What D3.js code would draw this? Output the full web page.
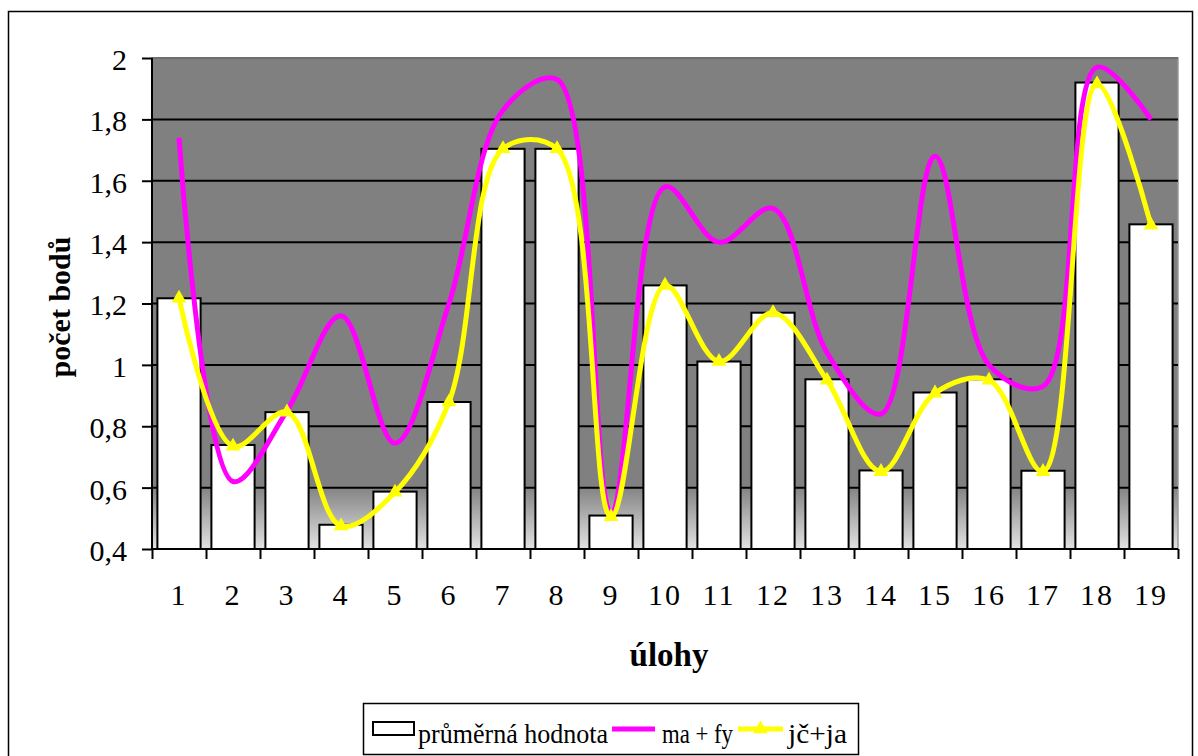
<!DOCTYPE html>
<html>
<head>
<meta charset="utf-8">
<script src="https://cdn.jsdelivr.net/npm/d3@7"></script>
<style>
  html, body { margin: 0; padding: 0; background: #fff; }
  svg text { font-family: "Liberation Serif", "Times New Roman", serif; fill: #000; }
</style>
</head>
<body>
<svg id="chart" width="1198" height="756"></svg>
<script>
// Úlohy 1–19 and average points per task
const categories = ["1","2","3","4","5","6","7","8","9","10","11","12","13","14","15","16","17","18","19"];
const prumernaHodnota = [1.217, 0.739, 0.846, 0.479, 0.587, 0.879, 1.704, 1.704, 0.509, 1.259, 1.011, 1.170, 0.953, 0.656, 0.910, 0.953, 0.655, 1.920, 1.458];
const maFy = [1.74, 0.62, 0.85, 1.16, 0.745, 1.20, 1.83, 1.93, 0.52, 1.58, 1.40, 1.51, 1.04, 0.84, 1.68, 1.00, 0.93, 1.97, 1.80];
const jcJa = [1.217, 0.735, 0.846, 0.475, 0.585, 0.879, 1.704, 1.704, 0.505, 1.259, 1.011, 1.170, 0.950, 0.652, 0.908, 0.950, 0.652, 1.915, 1.455];
const yTicks = [0.4, 0.6, 0.8, 1.0, 1.2, 1.4, 1.6, 1.8, 2.0];
const seriesNames = ["průměrná hodnota", "ma + fy", "jč+ja"];

const svg = d3.select("#chart");
const plot = { left: 152, right: 1178, top: 58, bottom: 549 };

const x = d3.scaleBand().domain(categories).range([plot.left, plot.right]).paddingInner(0.2).paddingOuter(0.1);
const xEdge = d3.scaleLinear().domain([0, categories.length]).range([plot.left, plot.right]);
const y = d3.scaleLinear().domain([0.4, 2]).range([plot.bottom, plot.top]);
const czech = d3.formatLocale({ decimal: ",", thousands: " ", grouping: [3], currency: ["", " Kč"] });
const fmt = v => Number.isInteger(v) ? String(v) : czech.format(".1f")(v);

// outer frame
svg.append("rect").attr("x", 8.5).attr("y", 11.5).attr("width", 1184).attr("height", 780)
  .attr("fill", "#fff").attr("stroke", "#000").attr("stroke-width", 1.5);

// plot background: grey fading to light at the bottom
const defs = svg.append("defs");
const grad = defs.append("linearGradient").attr("id", "bg").attr("x1", 0).attr("y1", 0).attr("x2", 0).attr("y2", 1);
grad.append("stop").attr("offset", 0).attr("stop-color", "#808080");
grad.append("stop").attr("offset", 0.87).attr("stop-color", "#808080");
grad.append("stop").attr("offset", 1).attr("stop-color", "#e2e2e2");
svg.append("rect").attr("x", plot.left).attr("y", plot.top)
  .attr("width", plot.right - plot.left).attr("height", plot.bottom - plot.top)
  .attr("fill", "url(#bg)").attr("stroke", "#9a9a9a").attr("stroke-width", 1.5);

// horizontal gridlines
svg.append("g").selectAll("line").data(yTicks.filter(v => v > 0.4 && v < 2)).join("line")
  .attr("x1", plot.left).attr("x2", plot.right)
  .attr("y1", d => y(d)).attr("y2", d => y(d))
  .attr("stroke", "#000").attr("stroke-width", 2);
svg.append("line").attr("x1", plot.left).attr("x2", plot.right)
  .attr("y1", y(2)).attr("y2", y(2)).attr("stroke", "#6e6e6e").attr("stroke-width", 2);

// bars
svg.append("g").selectAll("rect").data(prumernaHodnota).join("rect")
  .attr("x", (d, i) => x(categories[i]))
  .attr("y", d => y(d))
  .attr("width", x.bandwidth())
  .attr("height", d => y(0.4) - y(d))
  .attr("fill", "#fff").attr("stroke", "#000").attr("stroke-width", 2);

// y axis
const yAxis = svg.append("g").attr("transform", `translate(${plot.left},0)`)
  .call(d3.axisLeft(y).tickValues(yTicks).tickFormat(fmt).tickSize(10).tickPadding(15));
yAxis.select(".domain").attr("stroke-width", 2).attr("d", `M0,${plot.top}V${plot.bottom}`);
yAxis.selectAll(".tick line").attr("stroke-width", 2);
yAxis.selectAll("text").attr("font-size", 30).attr("dy", "0.38em")
  .style("font-family", "'Liberation Serif', serif");

// x axis: ticks between categories, labels centred
const xAxisTicks = svg.append("g").attr("transform", `translate(0,${plot.bottom})`)
  .call(d3.axisBottom(xEdge).tickValues(d3.range(0, categories.length + 1)).tickFormat("").tickSize(10));
xAxisTicks.select(".domain").attr("stroke-width", 2).attr("d", `M${plot.left},0H${plot.right}`);
xAxisTicks.selectAll(".tick line").attr("stroke-width", 2);
const xAxisLabels = svg.append("g").attr("transform", `translate(0,${plot.bottom})`)
  .call(d3.axisBottom(x).tickSize(0).tickPadding(35));
xAxisLabels.select(".domain").remove();
xAxisLabels.selectAll("text").attr("font-size", 30).attr("letter-spacing", 2)
  .style("font-family", "'Liberation Serif', serif");

// smoothed series lines
const cx = i => x(categories[i]) + x.bandwidth() / 2;
const line = d3.line().x((d, i) => cx(i)).y(d => y(d)).curve(d3.curveCatmullRom.alpha(0.5));
svg.append("path").datum(maFy).attr("d", line)
  .attr("fill", "none").attr("stroke", "#ff00ff").attr("stroke-width", 5).attr("stroke-linejoin", "round");
svg.append("path").datum(jcJa).attr("d", line)
  .attr("fill", "none").attr("stroke", "#ffff00").attr("stroke-width", 5).attr("stroke-linejoin", "round");
const tri = d3.symbol().type(d3.symbolTriangle).size(95);
svg.append("g").selectAll("path").data(jcJa).join("path")
  .attr("transform", (d, i) => `translate(${cx(i)},${y(d)})`)
  .attr("d", tri).attr("fill", "#ffff00");

// axis titles
svg.append("text").attr("x", 669).attr("y", 666).attr("text-anchor", "middle")
  .attr("font-size", 33).attr("font-weight", "bold").text("úlohy");
svg.append("text").attr("transform", "translate(70,307) rotate(-90)").attr("text-anchor", "middle")
  .attr("font-size", 30).attr("font-weight", "bold").text("počet bodů");

// legend
const lg = svg.append("g");
lg.append("rect").attr("x", 363.5).attr("y", 703.5).attr("width", 495).attr("height", 51)
  .attr("fill", "#fff").attr("stroke", "#000").attr("stroke-width", 1.5);
lg.append("rect").attr("x", 373).attr("y", 722).attr("width", 41).attr("height", 13)
  .attr("fill", "#fff").attr("stroke", "#000").attr("stroke-width", 2);
lg.append("text").attr("x", 418).attr("y", 743).attr("font-size", 27)
  .attr("textLength", 190).attr("lengthAdjust", "spacingAndGlyphs").text(seriesNames[0]);
lg.append("line").attr("x1", 612).attr("x2", 655).attr("y1", 729).attr("y2", 729)
  .attr("stroke", "#ff00ff").attr("stroke-width", 5);
lg.append("text").attr("x", 662).attr("y", 743).attr("font-size", 27)
  .attr("textLength", 71).attr("lengthAdjust", "spacingAndGlyphs").text(seriesNames[1]);
lg.append("line").attr("x1", 738).attr("x2", 783).attr("y1", 729).attr("y2", 729)
  .attr("stroke", "#ffff00").attr("stroke-width", 5);
lg.append("path").attr("transform", "translate(760.5,729)").attr("d", tri).attr("fill", "#ffff00");
lg.append("text").attr("x", 788).attr("y", 743).attr("font-size", 27)
  .attr("textLength", 59).attr("lengthAdjust", "spacingAndGlyphs").text(seriesNames[2]);
</script>
</body>
</html>
